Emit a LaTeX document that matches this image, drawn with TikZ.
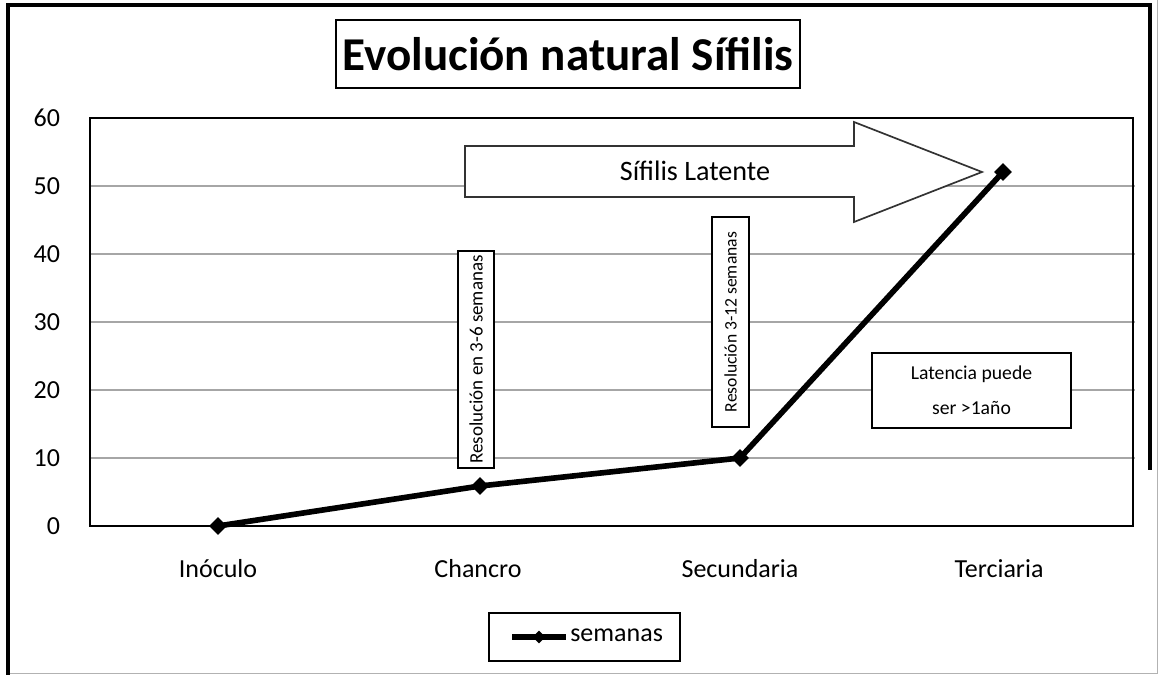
\documentclass[tikz,border=0pt]{standalone}
\usepackage{fontspec}
\setmainfont{Carlito}
\usetikzlibrary{shapes.geometric}

\tikzset{
  notebox/.style={draw,line width=1.2pt,fill=white,inner sep=0pt,font=\fontsize{12.5}{14}\selectfont},
  axislabel/.style={font=\fontsize{18.5}{22}\selectfont},
  datapt/.style={diamond,fill=black,inner sep=0pt,minimum size=0.45cm},
}

\begin{document}
\begin{tikzpicture}[x=0.025cm,y=-0.025cm]
\useasboundingbox (0,0) rectangle (1159,675);
% outer frame
\draw[gray!60,line width=0.7pt] (1157,0) -- (1157,673) -- (8,673);
\draw[line width=3pt] (8,675) -- (8,5) -- (1150,5) -- (1150,470);
% title
\node[draw,line width=1.5pt,minimum width=11.6cm,minimum height=1.7cm,font=\fontsize{33.5}{38}\selectfont\bfseries] (title) at (568,54) {Evolución natural Sífilis};
% grid and frame
\draw[gray!70,line width=0.8pt] (90,186) -- (1135,186);
\draw[gray!70,line width=0.8pt] (90,254) -- (1135,254);
\draw[gray!70,line width=0.8pt] (90,322) -- (1135,322);
\draw[gray!70,line width=0.8pt] (90,390) -- (1135,390);
\draw[gray!70,line width=0.8pt] (90,458) -- (1135,458);
\draw[line width=2pt] (90,118) rectangle (1133,526);
% y axis
\node[axislabel,anchor=east] (y60) at (65,118) {60};
\node[axislabel,anchor=east] (y50) at (65,186) {50};
\node[axislabel,anchor=east] (y40) at (65,254) {40};
\node[axislabel,anchor=east] (y30) at (65,322) {30};
\node[axislabel,anchor=east] (y20) at (65,390) {20};
\node[axislabel,anchor=east] (y10) at (65,458) {10};
\node[axislabel,anchor=east] (y0) at (65,526) {0};
% categories
\node[axislabel] (inoculo) at (218,569) {Inóculo};
\node[axislabel] (chancro) at (478,569) {Chancro};
\node[axislabel] (secundaria) at (740,569) {Secundaria};
\node[axislabel] (terciaria) at (999,569) {Terciaria};
% latent arrow
\draw[black!80,line width=1.2pt,fill=white] (465,146) -- (854,146) -- (854,122) -- (982,172) -- (854,222) -- (854,197) -- (465,197) -- cycle;
\node[font=\fontsize{20}{24}\selectfont] (latente) at (695,171) {Sífilis Latente};
% notes
\node[notebox,rotate=90,minimum width=5.425cm,minimum height=0.9cm,font=\fontsize{13.5}{15}\selectfont] (res1) at (476,359.5) {Resolución en 3-6 semanas};
\node[notebox,rotate=90,minimum width=5.25cm,minimum height=0.925cm] (res2) at (730.5,322) {Resolución 3-12 semanas};
\node[notebox,align=center,minimum width=4.975cm,minimum height=1.875cm,font=\fontsize{14}{25}\selectfont] (lat) at (971.5,390.5) {Latencia puede\\ser >1año};
% series
\node[datapt] (p1) at (218,526) {};
\node[datapt] (p2) at (480,486) {};
\node[datapt] (p3) at (740,458) {};
\node[datapt] (p4) at (1003,172) {};
\draw[line width=4pt] (p1.center) -- (p2.center) -- (p3.center) -- (p4.center);
% legend
\node[draw,line width=0.8pt,minimum width=4.775cm,minimum height=1.2cm] (legend) at (584.5,637) {};
\coordinate (la) at (512,637);
\coordinate (lb) at (566,637);
\draw[line width=3.6pt] (la) -- (lb);
\node[datapt,minimum size=0.32cm] (lp) at (539,637) {};
\node[axislabel,anchor=west,inner sep=0pt] (lname) at (570,635) {semanas};
\end{tikzpicture}
\end{document}
